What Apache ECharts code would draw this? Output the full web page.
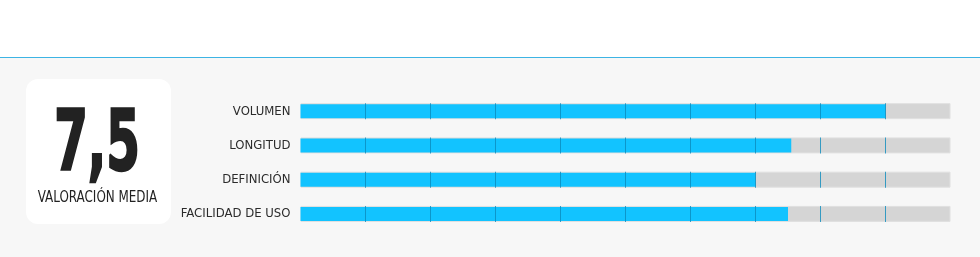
<!DOCTYPE html>
<html>
<head>
<meta charset="utf-8">
<script src="https://cdn.jsdelivr.net/npm/echarts@6/dist/echarts.min.js"></script>
<style>
html,body{margin:0;padding:0;background:#f7f7f7;}
#top{position:absolute;left:0;top:0;width:980px;height:57px;background:#ffffff;border-bottom:1px solid #3db4e4;}
#chart{position:absolute;left:0;top:0;width:980px;height:257px;}
</style>
</head>
<body>
<div id="top"></div>
<div id="chart"></div>
<script>
var categories = ['VOLUMEN', 'LONGITUD', 'DEFINICIÓN', 'FACILIDAD DE USO'];
var scores = [9, 7.55, 7, 7.5];
var maxScore = 10;
var tickValues = [1, 2, 3, 4, 5, 6, 7, 8, 9];
var averageLabel = '7,5';
var averageCaption = 'VALORACIÓN MEDIA';

var trackData = categories.map(function () { return maxScore; });
var tickData = [];
categories.forEach(function (c) {
  tickValues.forEach(function (t) { tickData.push([t, c]); });
});

var chart = echarts.init(document.getElementById('chart'), null, {renderer: 'canvas'});
var font = '"Liberation Sans Narrow", "DejaVu Sans Condensed", "Roboto", sans-serif';
chart.setOption({
  animation: false,
  backgroundColor: 'transparent',
  grid: {left: 300.5, right: 29.5, top: 94, height: 137},
  xAxis: {type: 'value', min: 0, max: maxScore, show: false},
  yAxis: [
    {type: 'category', data: categories, inverse: true,
     axisLine: {show: false}, axisTick: {show: false},
     axisLabel: {margin: 10, fontFamily: font, fontSize: 13, color: '#2b2b2b'}},
    {type: 'category', data: categories, inverse: true, show: false}
  ],
  series: [
    {type: 'bar', yAxisIndex: 1, data: trackData, barWidth: 16, silent: true,
     itemStyle: {color: '#d5d5d5', borderColor: '#e0e0e0', borderWidth: 1}},
    {type: 'bar', yAxisIndex: 0, data: scores, barWidth: 14, silent: true,
     itemStyle: {color: '#12c3ff'}},
    {type: 'scatter', yAxisIndex: 0, data: tickData, symbol: 'rect', symbolSize: [1, 16], silent: true,
     itemStyle: {color: '#0b8bbd'}}
  ],
  graphic: [
    {type: 'rect', left: 26, top: 79, shape: {width: 145, height: 145, r: 12}, style: {fill: '#ffffff'}},
    {type: 'text', x: 97, y: 148, scaleX: 0.64,
     style: {text: averageLabel, fontFamily: font, fontWeight: 'bold', fontSize: 84, fill: '#222222',
             stroke: '#222222', lineWidth: 2.5,
             textAlign: 'center', textVerticalAlign: 'middle'}},
    {type: 'text', x: 97.5, y: 198, scaleX: 0.83,
     style: {text: averageCaption, fontFamily: font, fontSize: 16, fill: '#222222',
             textAlign: 'center', textVerticalAlign: 'middle'}}
  ]
});
</script>
</body>
</html>
